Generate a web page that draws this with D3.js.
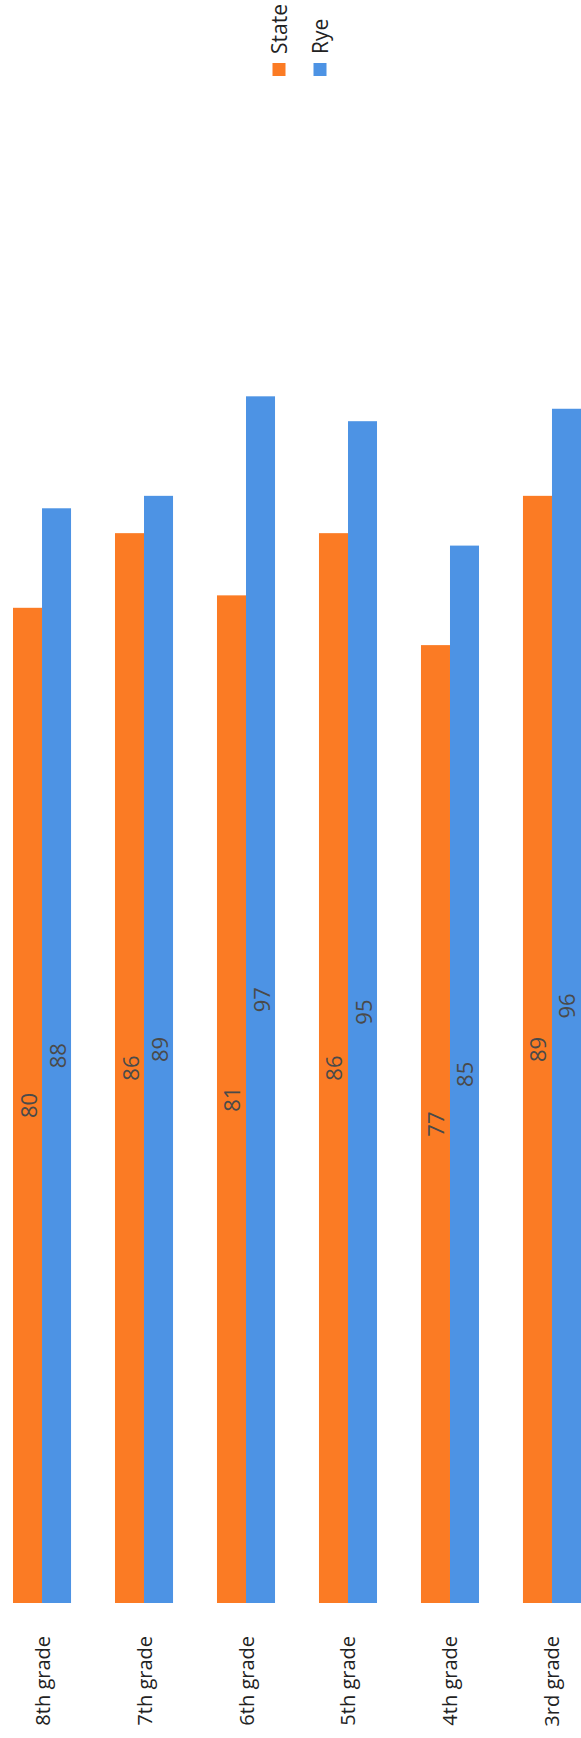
<!DOCTYPE html>
<html><head><meta charset="utf-8">
<script src="https://cdn.jsdelivr.net/npm/d3@7"></script>
<style>html,body{margin:0;padding:0;background:#fff;}svg{display:block;}</style>
</head><body>
<svg id="c" width="581" height="1738"></svg>
<script>
const categories = ["8th grade","7th grade","6th grade","5th grade","4th grade","3rd grade"];
const seriesNames = ["State","Rye"];
const stateValues = [80,86,81,86,77,89];
const ryeValues = [88,89,97,95,85,96];
const colors = {"State":"#FB7B24","Rye":"#4D93E4"};

const svg = d3.select("#c");
const yBase = 1603, yTop = 359;
const x0 = d3.scaleBand().domain(categories).range([13,581]).paddingInner(0.431).paddingOuter(0);
const x1 = d3.scaleBand().domain(seriesNames).range([0,x0.bandwidth()]);
const y = d3.scaleLinear().domain([0,100]).range([yBase, yTop]);

const data = categories.map((c,i)=>({cat:c, vals:[{s:"State",v:stateValues[i]},{s:"Rye",v:ryeValues[i]}]}));

const g = svg.append("g");
const grp = g.selectAll("g.grp").data(data).join("g").attr("transform",d=>`translate(${x0(d.cat)},0)`);
grp.selectAll("rect").data(d=>d.vals).join("rect")
  .attr("x",d=>x1(d.s)).attr("width",x1.bandwidth())
  .attr("y",d=>y(d.v)).attr("height",d=>y(0)-y(d.v))
  .attr("fill",d=>colors[d.s]);
grp.selectAll("text.val").data(d=>d.vals).join("text").attr("class","val")
  .attr("transform",d=>`translate(${x1(d.s)+x1.bandwidth()/2},${(y(d.v)+y(0))/2}) rotate(-90)`)
  .attr("text-anchor","middle").attr("dominant-baseline","central")
  .attr("font-family","Open Sans").attr("font-size",22).attr("fill","#4a4a4a")
  .text(d=>d.v);

// category axis labels
g.selectAll("text.cat").data(categories).join("text").attr("class","cat")
  .attr("transform",d=>`translate(${x0(d)+x0.bandwidth()/2},1636) rotate(-90)`)
  .attr("text-anchor","end").attr("dominant-baseline","central")
  .attr("font-family","Open Sans").attr("font-size",20).attr("fill","#222")
  .text(d=>d);

// legend
const legX = d3.scaleOrdinal().domain(seriesNames).range([279,320]);
const leg = svg.append("g");
leg.selectAll("rect").data(seriesNames).join("rect")
  .attr("x",d=>legX(d)-6.5).attr("y",63).attr("width",13).attr("height",13)
  .attr("fill",d=>colors[d]);
leg.selectAll("text").data(seriesNames).join("text")
  .attr("transform",d=>`translate(${legX(d)},54) rotate(-90)`)
  .attr("text-anchor","start").attr("dominant-baseline","central")
  .attr("font-family","Open Sans").attr("font-size",21).attr("fill","#222")
  .text(d=>d);
</script>
</body></html>
